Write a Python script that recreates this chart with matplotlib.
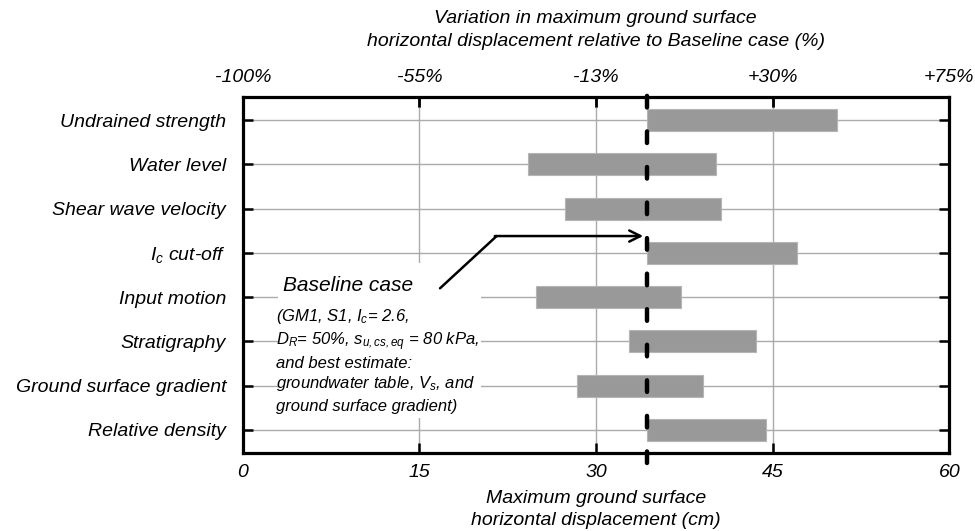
import matplotlib
matplotlib.use("Agg")
import matplotlib.pyplot as plt
from matplotlib.patches import Rectangle

plt.rcParams["font.family"] = ["Liberation Sans", "DejaVu Sans"]
plt.rcParams["font.style"] = "italic"
plt.rcParams["mathtext.fontset"] = "custom"
plt.rcParams["mathtext.it"] = "Liberation Sans:italic"
plt.rcParams["mathtext.rm"] = "Liberation Sans:italic"
plt.rcParams["mathtext.default"] = "it"

# Parameters varied in the sensitivity study (top to bottom)
categories = [
    "Undrained strength",
    "Water level",
    "Shear wave velocity",
    r"$I_c$ cut-off",
    "Input motion",
    "Stratigraphy",
    "Ground surface gradient",
    "Relative density",
]
# Range of maximum ground surface horizontal displacement (cm)
disp_low = [34.3, 24.2, 27.4, 34.3, 24.9, 32.8, 28.4, 34.3]
disp_high = [50.5, 40.2, 40.6, 47.1, 37.2, 43.6, 39.1, 44.4]
baseline_disp = 34.3

x_ticks = [0, 15, 30, 45, 60]
x_tick_labels = ["0", "15", "30", "45", "60"]
top_tick_labels = ["-100%", "-55%", "-13%", "+30%", "+75%"]

fig = plt.figure(figsize=(9.75, 5.31), dpi=100)
ax = fig.add_axes([0.249, 0.1469, 0.7247, 0.6704])

y = list(range(len(categories)))
widths = [h - l for l, h in zip(disp_low, disp_high)]
ax.barh(y, widths, left=disp_low, height=0.5, color="#999999",
        edgecolor="#b5b5b5", linewidth=0.8, zorder=2)

ax.set_xlim(0, 60)
ax.set_ylim(7.52, -0.52)

ax.set_xticks(x_ticks)
ax.set_xticklabels(x_tick_labels, fontsize=14)
ax.set_yticks(y)
ax.set_yticklabels(categories, fontsize=14)

ax.grid(True, color="#ababab", linewidth=1.0)
ax.set_axisbelow(True)

for s in ax.spines.values():
    s.set_linewidth(2.3)
ax.tick_params(axis="x", direction="in", length=7, width=1.8, pad=8,
               top=True, bottom=True)
ax.tick_params(axis="y", direction="in", length=7, width=1.8, pad=12,
               left=True, right=True)

# Relative-change scale along the top edge
top = ax.secondary_xaxis("top")
top.set_xticks(x_ticks)
top.set_xticklabels(top_tick_labels, fontsize=14)
top.tick_params(axis="x", direction="in", length=7, width=1.8, pad=8)

# Baseline case
ax.axvline(baseline_disp, ymin=-0.027, ymax=1.027, color="black", lw=3.2,
           linestyle=(0, (2.6, 5.4)), dash_capstyle="round", zorder=4,
           clip_on=False)

# Annotation block
ax.add_patch(Rectangle((3.0, 3.22), 17.2, 3.5, facecolor="white",
                       edgecolor="none", zorder=1))
ax.text(3.45, 3.87, "Baseline case", fontsize=15, ha="left", va="baseline",
        zorder=5)
detail_lines = [
    r"(GM1, S1, $I_c$= 2.6,",
    r"$D_R$= 50%, $s_{u,cs,eq}$ = 80 kPa,",
    "and best estimate:",
    r"groundwater table, $V_s$, and",
    "ground surface gradient)",
]
detail_y = [4.55, 5.08, 5.6, 6.05, 6.58]
for txt, yy in zip(detail_lines, detail_y):
    ax.text(2.85, yy, txt, fontsize=12, ha="left", va="baseline", zorder=5)

ax.plot([16.75, 21.56], [3.8, 2.62], color="black", lw=1.8, zorder=5,
        solid_capstyle="round")
ax.annotate("", xy=(34.0, 2.62), xytext=(21.4, 2.62),
            arrowprops=dict(arrowstyle="->", color="black", lw=1.8,
                            mutation_scale=20, shrinkA=0, shrinkB=0),
            zorder=5)

fig.text(0.611, 1 - 30 / 531,
         "Variation in maximum ground surface\n"
         "horizontal displacement relative to Baseline case (%)",
         ha="center", va="center", fontsize=14, linespacing=1.4)
fig.text(0.611, 1 - 509.5 / 531,
         "Maximum ground surface\nhorizontal displacement (cm)",
         ha="center", va="center", fontsize=14, linespacing=1.35)

fig.savefig("out.png", dpi=100)
